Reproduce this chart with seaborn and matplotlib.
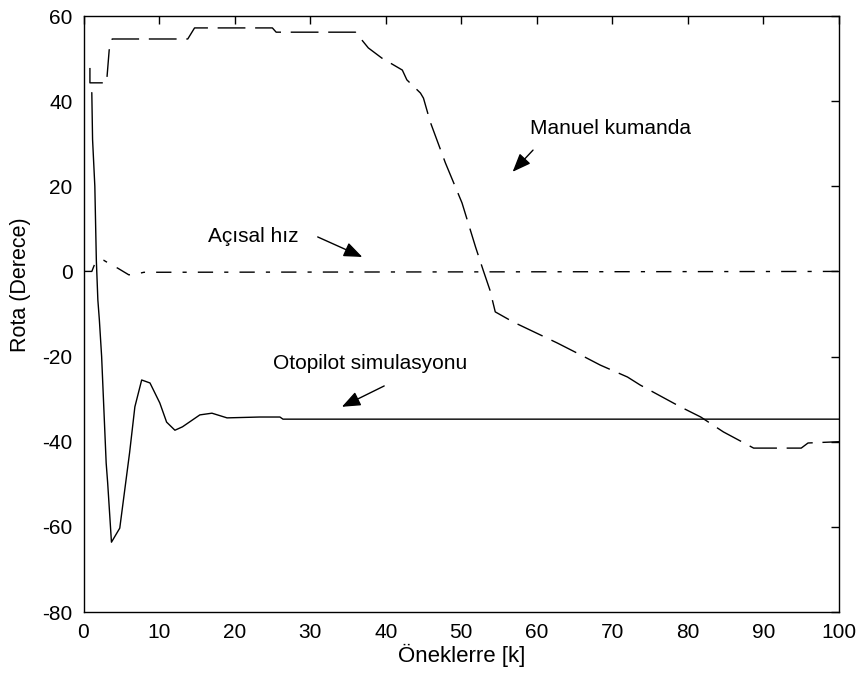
import matplotlib
matplotlib.use("Agg")
import matplotlib.pyplot as plt
import seaborn as sns
import pandas as pd

# ---- data ----
manuel_x = [0.85, 0.85, 3.05, 3.4, 3.8, 13.8, 14.7, 25.0, 25.5, 36.0, 37.7, 39.5,
            42.2, 42.8, 44.6, 45.0, 45.9, 47.9, 50.1, 51.9, 52.9, 53.8, 54.5,
            56.9, 62.7, 65.8, 68.4, 72.0, 73.7, 79.0, 81.7, 84.7, 88.7, 95.0,
            95.9, 100.0]
manuel_y = [47.8, 44.3, 44.3, 52.0, 54.6, 54.6, 57.2, 57.2, 56.2, 56.2, 52.5,
            50.1, 47.3, 45.0, 41.9, 40.7, 35.1, 25.5, 16.1, 5.7, 0.3, -4.4,
            -9.5, -11.9, -16.8, -19.6, -22.0, -24.8, -26.7, -31.8, -34.2,
            -37.7, -41.5, -41.5, -40.3, -40.0]

oto_x = [1.1, 1.2, 1.5, 1.7, 1.9, 2.1, 2.4, 3.0, 3.2, 3.7, 4.8, 6.1, 6.8, 7.7,
         8.8, 10.1, 11.0, 12.1, 13.1, 15.4, 17.0, 19.0, 23.3, 26.0, 26.4, 100.0]
oto_y = [42.0, 31.0, 20.0, 2.6, -6.7, -11.4, -20.0, -45.0, -49.7, -63.6, -60.3,
         -42.6, -31.8, -25.5, -26.2, -30.9, -35.4, -37.3, -36.5, -33.7, -33.3,
         -34.4, -34.2, -34.2, -34.7, -34.7]

acisal_x = [0.0, 1.1, 1.5, 2.0, 2.7, 4.0, 4.5, 6.0, 7.0, 8.0, 100.0]
acisal_y = [0.0, 0.0, 1.8, 2.6, 2.6, 1.2, 0.8, -0.8, -0.6, -0.2, 0.0]

x_ticks = [0, 10, 20, 30, 40, 50, 60, 70, 80, 90, 100]
y_ticks = [-80, -60, -40, -20, 0, 20, 40, 60]

labels = ["Manuel kumanda", "Açısal hız", "Otopilot simulasyonu"]
x_label = "Öneklerre [k]"
y_label = "Rota (Derece)"

# ---- style ----
sns.set_style("white")
plt.rcParams["font.family"] = ["Liberation Sans", "DejaVu Sans"]
plt.rcParams["text.color"] = "black"
plt.rcParams["axes.labelcolor"] = "black"

fig = plt.figure(figsize=(8.6, 6.75), dpi=100)
ax = fig.add_axes([83.5 / 860, 63 / 675, 755.5 / 860, 596 / 675])

manuel_df = pd.DataFrame({"k": manuel_x, "v": manuel_y})
oto_df = pd.DataFrame({"k": oto_x, "v": oto_y})
acisal_df = pd.DataFrame({"k": acisal_x, "v": acisal_y})

sns.lineplot(data=manuel_df, x="k", y="v", sort=False, estimator=None, ax=ax,
             color="black", lw=1.0, linestyle=(0, (20, 7)))
sns.lineplot(data=acisal_df, x="k", y="v", sort=False, estimator=None, ax=ax,
             color="black", lw=1.0, linestyle=(0, (11, 8, 3, 8)))
sns.lineplot(data=oto_df, x="k", y="v", sort=False, estimator=None, ax=ax,
             color="black", lw=1.0, linestyle="-")

ax.set_xlim(0, 100)
ax.set_ylim(-80, 60)
ax.set_xticks(x_ticks)
ax.set_yticks(y_ticks)
ax.set_xticklabels([str(t) for t in x_ticks])
ax.set_yticklabels([str(t) for t in y_ticks])
ax.tick_params(direction="in", length=6, width=1, top=True, right=True,
               labelsize=15, pad=8, colors="black")
for s in ax.spines.values():
    s.set_visible(True)
    s.set_color("black")
    s.set_linewidth(1.0)

ax.set_xlabel(x_label, fontsize=16, color="black")
ax.set_ylabel(y_label, fontsize=15.5, color="black")
ax.xaxis.set_label_coords(0.5, -0.053)
ax.yaxis.set_label_coords(-0.07, 0.55)

arrow = dict(arrowstyle="-|>,head_length=0.75,head_width=0.3", color="black",
             lw=1.0, mutation_scale=15, shrinkA=0, shrinkB=0)

ax.text(59.1, 33.5, labels[0], fontsize=15, ha="left", va="center", color="black")
ax.annotate("", xy=(56.8, 23.4), xytext=(59.5, 28.5), arrowprops=arrow)

ax.text(16.5, 8.1, labels[1], fontsize=15, ha="left", va="center", color="black")
ax.annotate("", xy=(36.9, 3.4), xytext=(31.0, 8.1), arrowprops=arrow)

ax.text(25.1, -21.7, labels[2], fontsize=15, ha="left", va="center", color="black")
ax.annotate("", xy=(34.2, -31.8), xytext=(39.8, -26.9), arrowprops=arrow)

fig.savefig("out.png", dpi=100)
